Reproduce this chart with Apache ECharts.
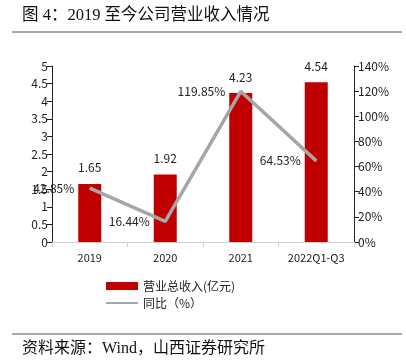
<!DOCTYPE html>
<html><head><meta charset="utf-8">
<script src="https://cdn.jsdelivr.net/npm/echarts@6/dist/echarts.min.js"></script>
<style>html,body{margin:0;padding:0;background:#fff}#c{width:406px;height:363px}</style>
</head><body><div id="c"></div>
<script>
var categories = ['2019', '2020', '2021', '2022Q1-Q3'];
var revenue = [1.65, 1.92, 4.23, 4.54];
var yoy = [42.85, 16.44, 119.85, 64.53];
var revenueName = '营业总收入(亿元)';
var yoyName = '同比（%）';
var titleText = '图 4：2019 至今公司营业收入情况';
var sourceText = '资料来源：Wind，山西证券研究所';

var chart = echarts.init(document.getElementById('c'));
var font = '"Noto Sans CJK SC", "DejaVu Sans", sans-serif';
var serif = '"Liberation Serif", "Noto Sans CJK SC", serif';
chart.setOption({
  animation: false,
  textStyle: {fontFamily: font},
  title: [
    {text: titleText, left: 22, top: 7, padding: 0, textStyle: {fontFamily: serif, fontSize: 16.5, fontWeight: 'normal', color: '#111'}},
    {text: sourceText, left: 22, top: 341, padding: 0, textStyle: {fontFamily: serif, fontSize: 16, fontWeight: 'normal', color: '#111'}}
  ],
  grid: {left: 52, right: 52, top: 66, bottom: 121},
  legend: {
    orient: 'vertical', left: 100, top: 275, itemGap: 5,
    itemWidth: 32, itemHeight: 8,
    textStyle: {fontSize: 12, color: '#222', fontFamily: font},
    data: [
      {name: revenueName, icon: 'rect'},
      {name: yoyName, itemStyle: {opacity: 0}}
    ]
  },
  xAxis: {
    type: 'category', data: categories, boundaryGap: true,
    axisLine: {lineStyle: {color: '#d0d0d0', width: 1}},
    axisTick: {show: true, alignWithLabel: false, lineStyle: {color: '#d0d0d0'}},
    axisLabel: {color: '#222', fontSize: 11, margin: 10}
  },
  yAxis: [
    {
      type: 'value', min: 0, max: 5, interval: 0.5,
      axisLine: {show: true, lineStyle: {color: '#222'}},
      axisTick: {show: true, lineStyle: {color: '#222'}},
      splitLine: {show: false},
      axisLabel: {color: '#222', fontSize: 12, margin: 4,
        formatter: function(v){ return String(v); }}
    },
    {
      type: 'value', min: 0, max: 140, interval: 20, position: 'right',
      axisLine: {show: true, lineStyle: {color: '#222'}},
      axisTick: {show: true, lineStyle: {color: '#222'}},
      splitLine: {show: false},
      axisLabel: {color: '#222', fontSize: 12, margin: 4, formatter: '{value}%'}
    }
  ],
  series: [
    {
      name: revenueName, type: 'bar', data: revenue, barWidth: 23,
      itemStyle: {color: '#C00000'},
      label: {show: true, position: 'top', distance: 10, color: '#222', fontSize: 12,
        formatter: function(p){ return p.value.toFixed(2); }}
    },
    {
      name: yoyName, type: 'line', yAxisIndex: 1, data: yoy, z: 3,
      symbol: 'none', lineStyle: {color: '#A6A6A6', width: 3.5},
      itemStyle: {color: '#A6A6A6'}
    },
    {
      name: 'yoyLabels', type: 'scatter', yAxisIndex: 1, data: yoy, z: 2,
      symbolSize: 1, itemStyle: {color: '#A6A6A6', opacity: 1}, silent: true,
      label: {show: true, position: 'left', distance: 15, color: '#222', opacity: 1, fontSize: 12,
        formatter: function(p){ return p.value.toFixed(2) + '%'; }}
    }
  ],
  graphic: [
    {type: 'line', shape: {x1: 12, y1: 32, x2: 402, y2: 32}, style: {stroke: '#555', lineWidth: 1}},
    {type: 'line', shape: {x1: 12, y1: 334, x2: 402, y2: 334}, style: {stroke: '#555', lineWidth: 1}}
  ]
});
</script></body></html>
